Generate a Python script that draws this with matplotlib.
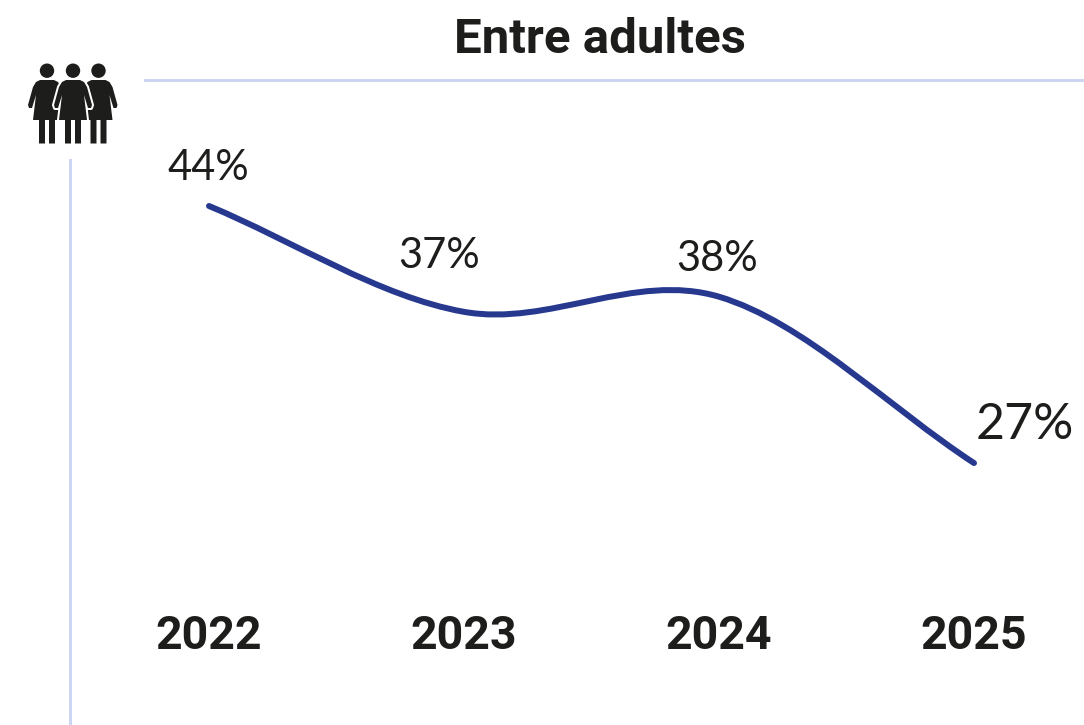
import numpy as np
import matplotlib
matplotlib.use('Agg')
import matplotlib.pyplot as plt
from matplotlib.path import Path
from matplotlib.patches import PathPatch, Circle, Polygon

years = [2022, 2023, 2024, 2025]
values = [44, 37, 38, 27]
labels = ['44%', '37%', '38%', '27%']

W, H = 1084, 725
DARK = '#1d1d1b'
BLUE = '#27398f'
RULE = '#ccd5f2'
px = 72 / 100  # points per pixel at dpi 100

plt.rcParams['font.family'] = ['Roboto', 'DejaVu Sans']

fig = plt.figure(figsize=(W / 100, H / 100), dpi=100)
ax = fig.add_axes([69.5 / W, 0, 1 - 69.5 / W, 1 - 79.5 / H])

# 255 px per year, 15.12 px per percent
ax.set_xlim(2022 - 139.5 / 255, 2022 + 875 / 255)
ax.set_ylim(44 - 519 / 15.12, 44 + 126.5 / 15.12)
ax.set_xticks(years)
ax.set_xticklabels(years, fontsize=33.5, fontweight='bold', color=DARK)
ax.tick_params(axis='x', length=0, pad=-80)
ax.set_yticks([])
ax.patch.set_alpha(0)

for s in ['right', 'bottom']:
    ax.spines[s].set_visible(False)
for s in ['left', 'top']:
    ax.spines[s].set_color(RULE)
    ax.spines[s].set_linewidth(3 * px)
ax.spines['left'].set_bounds(44 - 519 / 15.12, 44 + 46 / 15.12)
ax.spines['top'].set_bounds(2022 - 64 / 255, 2022 + 875 / 255)

# smooth line through the yearly values, tangents from the neighbours
x = np.array(years, dtype=float)
y = np.array(values, dtype=float)
slope = np.gradient(y, x)
slope[0] = (y[1] - y[0]) / (x[1] - x[0])
slope[-1] = (y[-1] - y[-2]) / (x[-1] - x[-2])
verts = [(x[0], y[0])]
codes = [Path.MOVETO]
for i in range(len(x) - 1):
    d = (x[i + 1] - x[i]) / 3
    verts += [(x[i] + d, y[i] + slope[i] * d),
              (x[i + 1] - d, y[i + 1] - slope[i + 1] * d),
              (x[i + 1], y[i + 1])]
    codes += [Path.CURVE4] * 3
ax.add_patch(PathPatch(Path(verts, codes), fill=False, edgecolor=BLUE,
                       linewidth=6 * px, capstyle='round'))

offsets = [(-1, 38), (-25, 56), (-2, 38), (51, 38)]
sizes = [30, 30, 30, 36]
for xi, yi, lab, off, fs in zip(years, values, labels, offsets, sizes):
    ax.annotate(lab, (xi, yi), xytext=(off[0] * px, off[1] * px),
                textcoords='offset points', ha='center', va='center',
                fontsize=fs, fontfamily='Lato', fontweight='normal', color=DARK)

fig.text(600 / W, 1 - 40 / H, 'Entre adultes', ha='center', va='center',
         fontsize=35.5, fontweight='bold', color=DARK)

# pictogram, in pixels
icon = fig.add_axes([0, 0, 1, 1], zorder=3)
icon.set_xlim(0, W)
icon.set_ylim(H, 0)
icon.axis('off')


def woman(cx, outline):
    body = [(-7, 80), (7, 80), (11, 82), (14, 87), (19, 105), (18, 108), (15, 108),
            (11, 95), (14, 120), (8, 120), (8, 143.5), (2, 143.5), (2, 120), (-2, 120),
            (-2, 143.5), (-8, 143.5), (-8, 120), (-14, 120), (-11, 95), (-15, 108),
            (-18, 108), (-19, 105), (-14, 87), (-11, 82)]
    pts = [(cx + a, b) for a, b in body]
    if outline:
        icon.add_patch(Polygon(pts[:10] + pts[17:], closed=True, facecolor='white',
                               edgecolor='white', linewidth=4 * px, joinstyle='round'))
    icon.add_patch(Polygon(pts, closed=True, facecolor=DARK, edgecolor='none'))
    icon.add_patch(Circle((cx, 70.7), 7.2, facecolor=DARK, edgecolor='none'))


woman(47, False)
woman(98.5, False)
woman(73, True)

fig.savefig('out.png', dpi=100)
